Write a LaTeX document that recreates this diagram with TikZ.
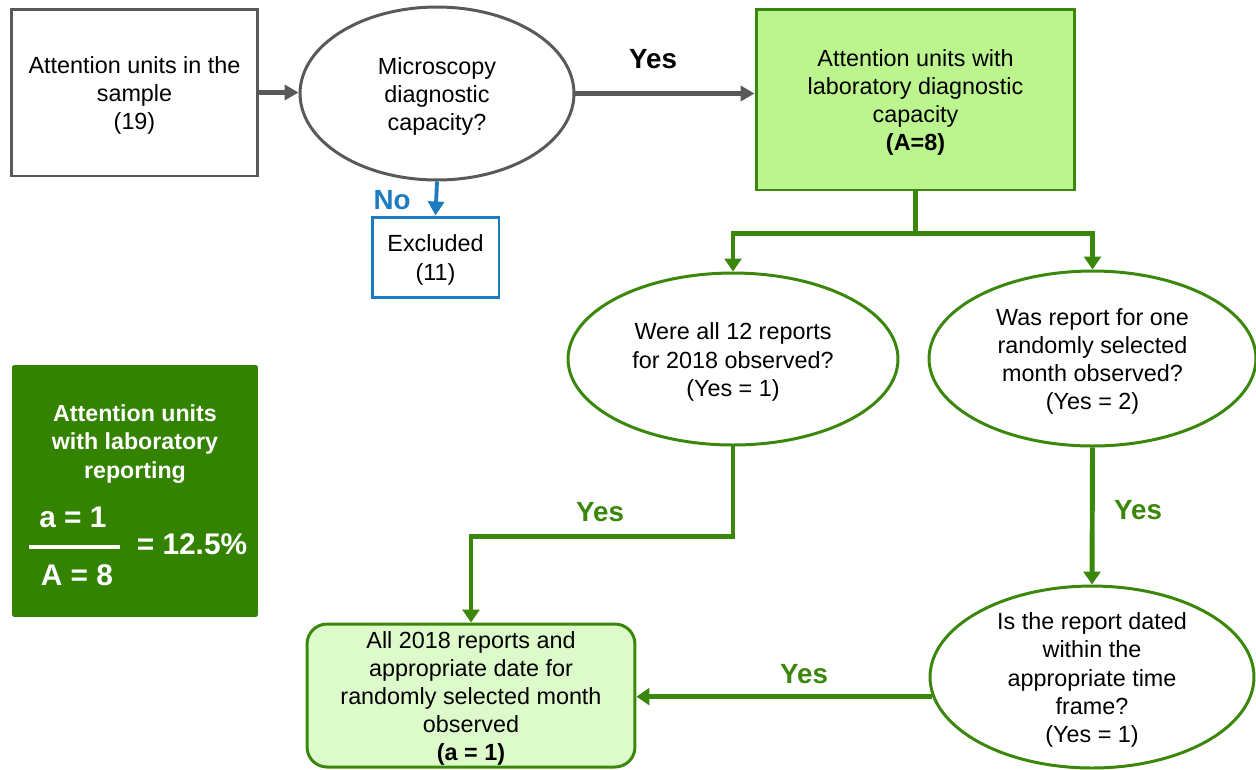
\documentclass[tikz,border=0pt]{standalone}
\usepackage{fontspec}
\setmainfont{Liberation Sans}
\usetikzlibrary{arrows.meta,shapes.geometric}

\definecolor{edgegray}{HTML}{595959}
\definecolor{leaf}{HTML}{3A870B}
\definecolor{lightleaf}{HTML}{BCF58E}
\definecolor{paleleaf}{HTML}{DDFACA}
\definecolor{darkleaf}{HTML}{338200}
\definecolor{seablue}{HTML}{1F7BBF}

\tikzset{
  body/.style={font=\fontsize{13.3}{16}\selectfont, align=center, text=black, inner sep=0pt, yshift=-1.7pt},
  plainbox/.style={draw=edgegray, line width=1.7pt, fill=white, inner sep=0pt},
  grayell/.style={ellipse, draw=edgegray, line width=1.7pt, fill=white, inner sep=0pt},
  greenell/.style={ellipse, draw=leaf, line width=1.7pt, fill=white, inner sep=0pt},
  greenbox/.style={draw=leaf, line width=1.7pt, fill=lightleaf, inner sep=0pt},
  bluebox/.style={draw=seablue, line width=1.7pt, fill=white, inner sep=0pt},
  resultbox/.style={draw=leaf, line width=1.7pt, fill=paleleaf, rounded corners=0.4cm, inner sep=0pt},
  darkbox/.style={draw=none, fill=darkleaf, rounded corners=1pt},
  whitetxt/.style={font=\fontsize{13.2}{16}\selectfont\bfseries, align=center, text=white, inner sep=0pt},
  whitebig/.style={font=\fontsize{17}{18}\selectfont\bfseries, text=white, inner sep=0pt},
  answer/.style={font=\fontsize{15.8}{17}\selectfont\bfseries, inner sep=0pt},
  grayarrow/.style={draw=edgegray, line width=2.8pt, -{Triangle[length=7.9pt,width=8.5pt]}},
  bluearrow/.style={draw=seablue, line width=2.2pt, -{Triangle[length=8pt,width=9pt]}},
  greenline/.style={draw=leaf, line width=2.8pt},
  greenarrow/.style={greenline, -{Triangle[length=7.4pt,width=9.6pt]}},
}

\begin{document}
\begin{tikzpicture}[x=0.02cm, y=-0.02cm]
\useasboundingbox (0,0) rectangle (1256,769);

% top row
\node[plainbox, minimum width=4.94cm, minimum height=3.34cm] (b1) at (134.5,92.5) {};
\node[body] (b1t) at (b1) {Attention units in the\\sample\\(19)};
\node[grayell, minimum width=5.48cm, minimum height=3.46cm] (e1) at (437,93.5) {};
\node[body] (e1t) at (e1) {Microscopy\\diagnostic\\capacity?};
\node[greenbox, minimum width=6.38cm, minimum height=3.62cm] (gb) at (915.5,99.5) {};
\node[body] (gbt) at (gb) {Attention units with\\laboratory diagnostic\\capacity\\\textbf{(A=8)}};
\node[bluebox, minimum width=2.54cm, minimum height=1.6cm] (ex) at (435.5,257) {};
\node[body] (ext) at (ex) {Excluded\\(11)};

% questions
\node[greenell, minimum width=6.6cm, minimum height=3.44cm] (e2) at (733,359) {};
\node[body] (e2t) at (e2) {Were all 12 reports\\for 2018 observed?\\(Yes = 1)};
\node[greenell, minimum width=6.54cm, minimum height=3.5cm] (e3) at (1092.5,358.5) {};
\node[body] (e3t) at (e3) {Was report for one\\randomly selected\\month observed?\\(Yes = 2)};
\node[greenell, minimum width=6.48cm, minimum height=3.64cm] (e4) at (1092,677) {};
\node[body] (e4t) at (e4) {Is the report dated\\within the\\appropriate time\\frame?\\(Yes = 1)};

% result
\node[resultbox, minimum width=6.56cm, minimum height=2.86cm] (res) at (471,695.5) {};
\node[body] (rest) at (res) {All 2018 reports and\\appropriate date for\\randomly selected month\\observed\\\textbf{(a = 1)}};

% summary panel
\node[darkbox, minimum width=4.92cm, minimum height=5.04cm] (sum) at (135,491) {};
\node[whitetxt] (sumt) at (135,444) {Attention units\\with laboratory\\reporting};
\node[whitebig] (num) at (73,517) {a = 1};
\node[whitebig] (den) at (77,575) {A = 8};
\node[whitebig] (pct) at (192,544) {= 12.5\%};
\coordinate (barL) at (29,547);
\coordinate (barR) at (120,547);
\draw[white, line width=2.3pt] (barL) -- (barR);

% answer labels
\node[answer, text=black] (y0) at (653,59) {Yes};
\node[answer, text=seablue] (no) at (392,200) {No};
\node[answer, text=leaf] (y1) at (600,512) {Yes};
\node[answer, text=leaf] (y2) at (1138,510) {Yes};
\node[answer, text=leaf] (y3) at (804,674) {Yes};

% connectors
\draw[grayarrow] (b1.east) -- (b1.east -| e1.west);
\draw[grayarrow] (e1.east) -- (e1.east -| gb.west);
\draw[bluearrow] (e1.south) -- (ex.north);
\draw[greenline, line cap=rect] (gb.south) -- ++(0,42) coordinate (split);
\draw[greenarrow] (split) -| (e2.north);
\draw[greenarrow] (split) -| (e3.north);
\draw[greenarrow] (e2.south) -- ++(0,90) -| (res.north);
\draw[greenarrow] (e3.south) -- (e4.north);
\draw[greenarrow] (e4.187.6) -- (e4.187.6 -| res.east);
\end{tikzpicture}
\end{document}
